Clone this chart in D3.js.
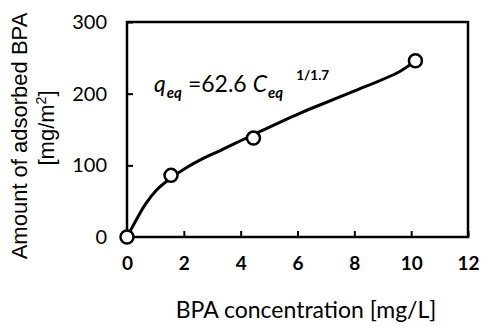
<!DOCTYPE html>
<html>
<head>
<meta charset="utf-8">
<script src="https://cdn.jsdelivr.net/npm/d3@7"></script>
<style>
  html, body { margin: 0; padding: 0; background: #fff; }
  svg { display: block; }
</style>
</head>
<body>
<div class="chart"></div>
<script>
// measured points (BPA concentration, adsorbed amount)
const measC = [0, 1.55, 4.45, 10.15];
const measQ = [0, 86, 138, 246];

// fitted curve
const fitC = [0, 0.3, 0.65, 1.05, 1.5, 2.1, 2.7, 3.3, 4.4, 6.1, 7.9, 9.6, 10.15];
const fitQ = [0, 22, 46, 66, 81, 97, 110, 121, 142, 173, 202, 231, 246];

const xTicks = [0, 2, 4, 6, 8, 10, 12];
const yTicks = [0, 100, 200, 300];

const width = 484, height = 326;
const margin = { top: 22, right: 16, bottom: 89, left: 127 };
const innerWidth = width - margin.left - margin.right,
      innerHeight = height - margin.top - margin.bottom;

const font = 'Lato, "Open Sans", sans-serif';
const arial = '"Liberation Sans", Arial, sans-serif';

const svg = d3.select('.chart').append('svg')
  .attr('width', width)
  .attr('height', height)
  .style('background', '#fff');

const xScale = d3.scaleLinear().domain([0, 12]).range([0, innerWidth]);
const yScale = d3.scaleLinear().domain([0, 300]).range([innerHeight, 0]);

const chartInner = svg.append('g')
  .attr('transform', `translate(${margin.left},${margin.top})`);

// ----- axes (ticks point inward) -----
const xAxis = d3.axisBottom(xScale).tickValues(xTicks).tickSize(-6).tickPadding(20);
const yAxis = d3.axisLeft(yScale).tickValues(yTicks).tickSize(-6).tickPadding(20);

const gx = chartInner.append('g')
  .attr('transform', `translate(0,${innerHeight})`)
  .call(xAxis);
const gy = chartInner.append('g').call(yAxis);

[gx, gy].forEach(g => {
  g.attr('font-size', null).attr('font-family', null);
  g.select('.domain').remove();
  g.selectAll('.tick line').attr('stroke', '#000').attr('stroke-width', 2);
  g.selectAll('.tick text')
    .attr('fill', '#000')
    .style('font-family', font)
    .style('font-size', '20px');
});
gx.selectAll('.tick text').style('font-weight', 'bold').style('font-size', '19px');

// frame
chartInner.append('rect')
  .attr('x', 0).attr('y', 0)
  .attr('width', innerWidth).attr('height', innerHeight)
  .attr('fill', 'none')
  .attr('stroke', '#000')
  .attr('stroke-width', 2.5);

// ----- fitted curve -----
const fitData = fitC.map((c, i) => ({ c, q: fitQ[i] }));
chartInner.append('path')
  .datum(fitData)
  .attr('fill', 'none')
  .attr('stroke', '#000')
  .attr('stroke-width', 3)
  .attr('d', d3.line()
    .x(d => xScale(d.c))
    .y(d => yScale(d.q))
    .curve(d3.curveCatmullRom.alpha(0.5)));

// ----- measured points -----
const measData = measC.map((c, i) => ({ c, q: measQ[i] }));
chartInner.selectAll('.pt')
  .data(measData)
  .enter()
  .append('circle')
  .attr('class', 'pt')
  .attr('cx', d => xScale(d.c))
  .attr('cy', d => yScale(d.q))
  .attr('r', 6.5)
  .attr('fill', '#fff')
  .attr('stroke', '#000')
  .attr('stroke-width', 2.5);

// ----- equation -----
// spacing done with dx, svg would collapse the blanks
const eq = chartInner.append('text')
  .attr('x', xScale(0.95))
  .attr('y', yScale(203))
  .style('font-family', font)
  .style('font-size', '23px')
  .attr('fill', '#000');
eq.append('tspan').text('q').style('font-style', 'italic');
eq.append('tspan').text('eq').style('font-style', 'italic').style('font-weight', 'bold')
  .style('font-size', '15px').attr('dx', 1).attr('dy', 6);
eq.append('tspan').text('=62.6').attr('dx', 6).attr('dy', -6);
eq.append('tspan').text('C').style('font-style', 'italic').attr('dx', 6);
eq.append('tspan').text('eq').style('font-style', 'italic').style('font-weight', 'bold')
  .style('font-size', '15px').attr('dx', 1).attr('dy', 6);
eq.append('tspan').text('1/1.7').style('font-size', '13.5px').style('font-weight', 'bold')
  .attr('dx', 13).attr('dy', -18);

// ----- axis titles -----
svg.append('text')
  .text('BPA concentration [mg/L]')
  .attr('text-anchor', 'middle')
  .style('font-family', font)
  .style('font-size', '23px')
  .attr('fill', '#000')
  .attr('x', margin.left + xScale(6.3))
  .attr('y', 318);

const yl = svg.append('g')
  .style('font-family', arial)
  .style('font-size', '22px')
  .attr('fill', '#000')
  .attr('text-anchor', 'middle')
  .attr('transform', `translate(0,${136}) rotate(-90)`);
yl.append('text').text('Amount of adsorbed BPA').attr('x', 0).attr('y', 27);
const unit = yl.append('text').attr('x', 8).attr('y', 54);
unit.append('tspan').text('[mg/m');
unit.append('tspan').text('2').style('font-size', '14px').attr('dy', -8);
unit.append('tspan').text(']').attr('dy', 8);
</script>
</body>
</html>
